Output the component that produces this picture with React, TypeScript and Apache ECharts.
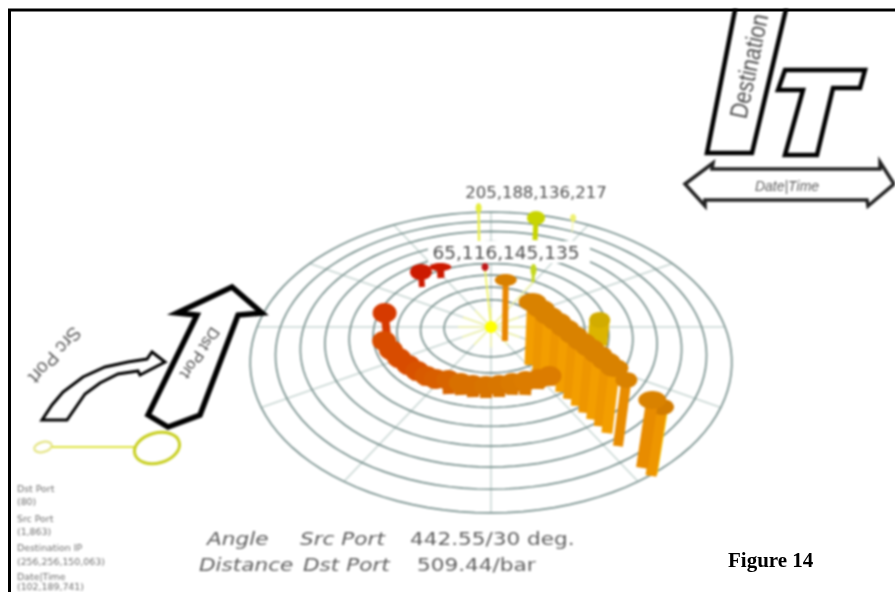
import React, { useEffect, useRef } from "react";
import * as echarts from "echarts";

// ---------- data (ground-plane position of each glyph, glyph height) ----------
const ringDistances = [0.2, 0.3, 0.4, 0.5, 0.6, 0.7, 0.8, 0.9, 1.0];
const spokeAngles = [0, 30, 60, 90, 120, 150, 180, 210, 240, 270, 300, 330];
const hubRayAngles = [0, 30, 60, 90, 120, 150, 180, 210, 240, 270, 300, 330];

const farX = [-0.059, 0.411, 0.22, 0.194, -0.028, -0.316, -0.233, -0.439, 0.44, 0.058];
const farY = [-0.669, -0.794, -0.716, -0.342, -0.444, -0.302, -0.376, 0.056, 0.123, 0.096];
const farH = [37, 14, 22, 12, 3, 15, 11, 22, 25, 61];

const wallX = [0.157, 0.186, 0.214, 0.242, 0.269, 0.296, 0.322, 0.347, 0.373, 0.397, 0.421];
const wallY = [0.252, 0.294, 0.335, 0.375, 0.414, 0.453, 0.491, 0.528, 0.564, 0.6, 0.635];
const wallH = [63, 63, 63, 64, 64, 64, 64, 65, 65, 65, 65];

const arcX = [-0.436, -0.402, -0.365, -0.325, -0.287, -0.249, -0.213, -0.162, -0.115, -0.069, -0.019, 0.031, 0.081, 0.131, 0.182, 0.226];
const arcY = [0.156, 0.214, 0.264, 0.307, 0.343, 0.373, 0.39, 0.425, 0.43, 0.442, 0.447, 0.442, 0.43, 0.43, 0.396, 0.373];
const arcH = [9, 9, 9, 9, 9, 9, 9, 14, 12, 12, 12, 12, 12, 14, 10, 9];

const nearX = [0.453, 0.563, 0.548, 0.523];
const nearY = [0.7, 0.832, 0.841, 0.804];
const nearH = [66, 65, 69, 68];

const tupleLabels = ["205,188,136,217", "65,116,145,135"];
const readout = [
  ["Angle", "Src Port", "442.55/30 deg."],
  ["Distance", "Dst Port", "509.44/bar"],
];
const legendLines = ["Dst Port", "(80)", "Src Port", "(1,863)", "Destination IP", "(256,256,150,063)", "Date|Time", "(102,189,741)"];

// ---------- styles ----------
const farStyle = [
  { rx: 3, ry: 5, w: 2.5, cap: "#e6ec3c", stem: "#ecef50" },
  { rx: 3, ry: 4, w: 1, cap: "#eef070", stem: "#f2f4a0" },
  { rx: 9, ry: 7, w: 5, cap: "#c8d400", stem: "#c8d400" },
  { rx: 3, ry: 6, w: 3, cap: "#c4d820", stem: "#c4d820" },
  { rx: 3.5, ry: 4, w: 2, cap: "#c01818", stem: "#c01818" },
  { rx: 11, ry: 8, w: 6, cap: "#cc1a00", stem: "#cc1a00" },
  { rx: 11, ry: 4, w: 7, cap: "#cc1a00", stem: "#cc1a00" },
  { rx: 12, ry: 10, w: 8, cap: "#d63a00", stem: "#d63a00" },
  { rx: 10.5, ry: 8, w: 20, cap: "#d2ac00", stem: "#dcb400" },
  { rx: 11, ry: 6, w: 6, cap: "#d88000", stem: "#e88600" },
];
const wallStyle = (i: number) => ({ rx: 14, ry: 9, w: 11, cap: "#d98200", stem: i % 2 ? "#ee9600" : "#f39e00" });
const arcColors = ["#d84c00", "#d84c00", "#d84c00", "#d84c00", "#d85200", "#d85a00", "#d85e00", "#d86400", "#d87000", "#d87000", "#d87400", "#d87600", "#da7a00", "#dc7c00", "#dc7c00", "#dc7c00"];
const arcStyle = (i: number) => ({ rx: 12, ry: 10, w: 12, cap: arcColors[i], stem: arcColors[i] });
const nearStyle = [
  { rx: 11, ry: 8, w: 10, cap: "#d98200", stem: "#e88c00" },
  { rx: 0, ry: 0, w: 5, cap: "#f3cf00", stem: "#f3cf00" },
  { rx: 12, ry: 8, w: 11, cap: "#d27c00", stem: "#ee9600" },
  { rx: 14, ry: 9, w: 12, cap: "#d98200", stem: "#e88c00" },
];

// ---------- perspective of the floor ----------
const CX = 491, CY = 327, A = 234, B = 142, P = 0.236, LEAN = 1000;
const project = (X: number, Y: number) => {
  const s = 1 / (1 - P * Y);
  return [CX + A * X * s, CY + B * Y * s];
};
const polar = (r: number, deg: number) => {
  const t = (deg * Math.PI) / 180;
  return project(r * Math.cos(t), r * Math.sin(t));
};

const GRID = "#7a928f";
const SPOKE = "#c8d6d3";
const INK = "#5e5e5e";

function glyphSeries(xs: number[], ys: number[], hs: number[], styleOf: (i: number) => any, part: "stem" | "cap" | "all") {
  return {
    type: "custom",
    coordinateSystem: "cartesian2d",
    silent: true,
    clip: false,
    data: xs.map((x, i) => [x, ys[i], hs[i]]),
    encode: { x: 0, y: 1 },
    renderItem: (params: any, api: any) => {
      const i = params.dataIndex;
      const st = styleOf(i);
      const foot = project(xs[i], ys[i]);
      const h = hs[i];
      const top = [foot[0] + (h * (foot[0] - CX)) / LEAN, foot[1] - h];
      const a = api.coord(foot);
      const b = api.coord(top);
      const children: any[] = [];
      if (part !== "cap") {
        children.push({ type: "line", shape: { x1: a[0], y1: a[1], x2: b[0], y2: b[1] }, style: { stroke: st.stem, lineWidth: st.w, fill: null } });
      }
      if (part !== "stem" && st.rx > 0) {
        children.push({ type: "ellipse", shape: { cx: b[0], cy: b[1], rx: st.rx, ry: st.ry }, style: { fill: st.cap } });
      }
      return { type: "group", children };
    },
  };
}

const hubRays = {
  type: "custom",
  coordinateSystem: "cartesian2d",
  silent: true,
  data: hubRayAngles.map((d) => [d]),
  encode: { x: 0 },
  renderItem: (params: any, api: any) => {
    const a = api.coord([CX, CY]);
    const b = api.coord(polar(0.14, hubRayAngles[params.dataIndex]));
    return { type: "line", shape: { x1: a[0], y1: a[1], x2: b[0], y2: b[1] }, style: { stroke: "#f4f6a8", lineWidth: 1.5 } };
  },
};

const markRays = {
  type: "custom",
  coordinateSystem: "cartesian2d",
  silent: true,
  data: [[3], [4]],
  encode: { x: 0 },
  renderItem: (params: any, api: any) => {
    const k = params.dataIndex === 0 ? 3 : 4;
    const a = api.coord([CX, CY]);
    const b = api.coord(project(farX[k], farY[k]));
    return { type: "line", shape: { x1: a[0], y1: a[1], x2: b[0], y2: b[1] }, style: { stroke: k === 4 ? "#f0f250" : "#f4f6a8", lineWidth: 1.5 } };
  },
};

const spokeSeries = {
  type: "custom",
  coordinateSystem: "cartesian2d",
  silent: true,
  data: spokeAngles.map((d) => [d]),
  encode: { x: 0 },
  renderItem: (params: any, api: any) => {
    const a = api.coord([CX, CY]);
    const b = api.coord(polar(1, spokeAngles[params.dataIndex]));
    return { type: "line", shape: { x1: a[0], y1: a[1], x2: b[0], y2: b[1] }, style: { stroke: SPOKE, lineWidth: 1.5 } };
  },
};

const ringSeries = {
  type: "custom",
  coordinateSystem: "cartesian2d",
  silent: true,
  data: ringDistances.map((d) => [d]),
  encode: { x: 0 },
  renderItem: (params: any, api: any) => {
    const r = ringDistances[params.dataIndex];
    const points: number[][] = [];
    for (let d = 0; d < 360; d += 3) points.push(api.coord(polar(r, d)));
    return { type: "polygon", shape: { points }, style: { fill: "none", stroke: GRID, lineWidth: 1.7 } };
  },
};

const hubSeries = {
  type: "custom",
  coordinateSystem: "cartesian2d",
  silent: true,
  data: [[0]],
  encode: { x: 0 },
  renderItem: (_p: any, api: any) => {
    const c = api.coord([CX, CY]);
    return { type: "circle", shape: { cx: c[0], cy: c[1], r: 6 }, style: { fill: "#ffff00" } };
  },
};

const frame = (points: number[][], lineWidth: number, stroke = "#000") => ({
  type: "polygon",
  shape: { points },
  style: { fill: "#fff", stroke, lineWidth, lineJoin: "miter" },
  z: 20,
});
const label = (text: string, x: number, y: number, font: string, fill: string, rotation = 0, align = "center", scaleX = 1) => ({
  type: "text",
  x,
  y,
  rotation,
  scaleX,
  z: 30,
  style: { text, font, fill, align, verticalAlign: "middle" },
});
const deg = (d: number) => (d * Math.PI) / 180;
const legendY = [488, 501, 518, 531, 547, 561, 576, 586.5];

const graphics: any[] = [
  { type: "rect", shape: { x: 428, y: 241, width: 162, height: 22 }, style: { fill: "#fff" }, z: 15 },
  label(tupleLabels[0], 536, 192, '16.5px "DejaVu Sans"', "#505050"),
  label(tupleLabels[1], 506, 252, '18.5px "DejaVu Sans"', "#505050"),
  // Destination
  frame([[707, 153], [752, 153], [787, 5], [736, 5]], 4.5),
  label("Destination", 749, 66, '25px "Liberation Sans"', "#4c4c4c", deg(78), "center", 0.85),
  { type: "rect", shape: { x: 0, y: 0, width: 895, height: 9 }, style: { fill: "#fff" }, z: 40 },
  // T
  frame([[785, 70], [865, 70], [860, 88], [833, 88], [817, 155], [785, 155], [803, 90], [778, 90]], 4.5),
  // Date|Time
  frame([[685, 184], [713, 163], [712, 169], [880, 169], [880, 162], [894, 184], [868, 206], [867, 200], [705, 200], [705, 206]], 3.5, "#222"),
  label("Date|Time", 787, 186, 'italic 14px "Liberation Sans"', "#606060"),
  // Src Port arrow
  frame([[42, 420], [52, 405], [63, 392], [83, 377], [105, 367], [128, 362], [147, 359], [152, 352], [165, 362], [140, 375], [138, 371], [118, 374], [100, 383], [85, 394], [67, 420]], 3),
  label("Src Port", 55, 355, '19px "Liberation Sans"', "#5a5a5a", deg(-132)),
  // Dst Port arrow
  frame([[148, 415], [168, 427], [200, 415], [238, 315], [262, 313], [232, 287], [177, 313], [197, 315]], 5.5),
  label("Dst Port", 200, 353, '16px "Liberation Sans"', "#4c4c4c", deg(-124)),
  // small selection glyph
  { type: "line", shape: { x1: 52, y1: 447, x2: 136, y2: 447 }, style: { stroke: "#dfe340", lineWidth: 2 }, z: 20 },
  { type: "ellipse", x: 43, y: 447, rotation: deg(15), shape: { cx: 0, cy: 0, rx: 9, ry: 5 }, style: { fill: "#fff", stroke: "#e2e27a", lineWidth: 2 }, z: 20 },
  { type: "ellipse", x: 157, y: 448, rotation: deg(15), shape: { cx: 0, cy: 0, rx: 23, ry: 15 }, style: { fill: "#fff", stroke: "#c8cf20", lineWidth: 3 }, z: 20 },
  // readout
  label(readout[0][0], 207, 539, 'italic 17px "DejaVu Sans"', INK, 0, "left", 1.27),
  label(readout[0][1], 300, 539, 'italic 17px "DejaVu Sans"', INK, 0, "left", 1.27),
  label(readout[0][2], 410, 539, '17px "DejaVu Sans"', INK, 0, "left", 1.27),
  label(readout[1][0], 199, 565, 'italic 17px "DejaVu Sans"', INK, 0, "left", 1.27),
  label(readout[1][1], 303, 565, 'italic 17px "DejaVu Sans"', INK, 0, "left", 1.27),
  label(readout[1][2], 417, 565, '17px "DejaVu Sans"', INK, 0, "left", 1.27),
  // legend
  ...legendLines.map((t, i) => label(t, 17, legendY[i], '9.4px "DejaVu Sans"', "#6e6e6e", 0, "left")),
];

const overlayGraphics: any[] = [
  label("Figure 14", 728, 560, 'bold 21px "Liberation Serif"', "#000", 0, "left"),
  { type: "line", shape: { x1: 8, y1: 10, x2: 895, y2: 10 }, style: { stroke: "#000", lineWidth: 3 }, z: 50 },
  { type: "line", shape: { x1: 9.5, y1: 9, x2: 9.5, y2: 592 }, style: { stroke: "#000", lineWidth: 3 }, z: 50 },
];

export default function App() {
  const ref = useRef<HTMLDivElement>(null);
  const overlayRef = useRef<HTMLDivElement>(null);
  useEffect(() => {
    const chart = echarts.init(ref.current!, undefined, { renderer: "svg" });
    chart.setOption({
      animation: false,
      backgroundColor: "#fff",
      grid: { left: 0, right: 0, top: 0, bottom: 0 },
      xAxis: { type: "value", min: 0, max: 895, show: false },
      yAxis: { type: "value", min: 0, max: 592, inverse: true, show: false },
      graphic: graphics,
      series: [
        spokeSeries,
        ringSeries,
        hubRays,
        markRays,
        hubSeries,
        glyphSeries(farX, farY, farH, (i) => farStyle[i], "all"),
        glyphSeries(wallX, wallY, wallH, wallStyle, "stem"),
        glyphSeries(wallX, wallY, wallH, wallStyle, "cap"),
        glyphSeries(arcX, arcY, arcH, arcStyle, "stem"),
        glyphSeries(arcX, arcY, arcH, arcStyle, "cap"),
        glyphSeries(nearX, nearY, nearH, (i) => nearStyle[i], "all"),
      ],
    });
    const overlay = echarts.init(overlayRef.current!, undefined, { renderer: "svg" });
    overlay.setOption({ animation: false, graphic: overlayGraphics });
    return () => {
      chart.dispose();
      overlay.dispose();
    };
  }, []);
  return (
    <>
      <div ref={ref} style={{ position: "fixed", left: 0, top: 0, width: 895, height: 592, filter: "blur(0.9px)" }} />
      <div ref={overlayRef} style={{ position: "fixed", left: 0, top: 0, width: 895, height: 592, pointerEvents: "none" }} />
    </>
  );
}
